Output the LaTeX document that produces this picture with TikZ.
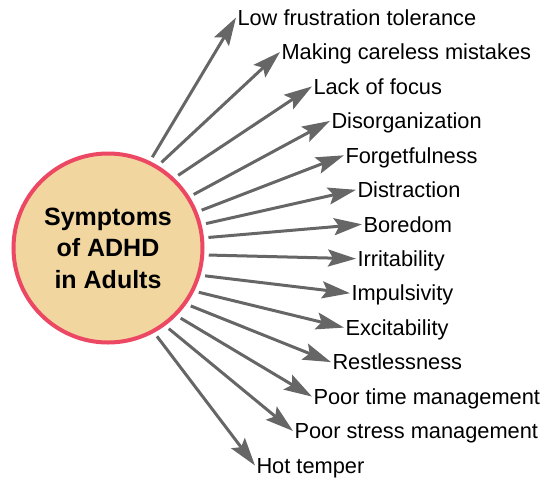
\documentclass[tikz,border=0pt]{standalone}
\usepackage{fontspec}
\setmainfont{Liberation Sans}
\usetikzlibrary{arrows.meta}
\definecolor{circfill}{RGB}{242,214,160}
\definecolor{circline}{RGB}{236,72,100}
\definecolor{arrgray}{RGB}{102,102,102}
\begin{document}
\begin{tikzpicture}[x=1pt,y=-1pt,
	symp/.style={anchor=west,inner xsep=1.5pt,inner ysep=0pt,outer sep=0pt,text height=15.5pt,text depth=0pt,font=\fontsize{21.8}{26}\selectfont},
	arr/.style={line width=3pt,color=arrgray,-{Stealth[length=28pt,width=17pt,inset=5pt]}}]
	\useasboundingbox (0,0) rectangle (559,477);
	%CENTRE
	\node[circle,draw=circline,line width=4pt,fill=circfill,minimum size=189pt,outer sep=6.5pt,align=center,font=\bfseries\fontsize{25}{31.5}\selectfont] (adhd) at (108,248) {Symptoms\\of ADHD\\in Adults};
	
	%SYMPTOMS
	\node[symp] (lowfrust) at (236,17.5) {Low frustration tolerance};
	\node[symp] (careless) at (280,52) {Making careless mistakes};
	\node[symp] (focus) at (312,86.4) {Lack of focus};
	\node[symp] (disorg) at (330,120.9) {Disorganization};
	\node[symp] (forget) at (344,155.3) {Forgetfulness};
	\node[symp] (distract) at (356,189.8) {Distraction};
	\node[symp] (bored) at (362,224.3) {Boredom};
	\node[symp] (irrit) at (356,258.7) {Irritability};
	\node[symp] (impuls) at (350,293.2) {Impulsivity};
	\node[symp] (excit) at (344,327.6) {Excitability};
	\node[symp] (restless) at (331,362.1) {Restlessness};
	\node[symp] (timemgmt) at (312,396.6) {Poor time management};
	\node[symp] (stressmgmt) at (293,431) {Poor stress management};
	\node[symp] (temper) at (255,465.5) {Hot temper};
	
	%ARROWS
	\draw[arr] (adhd.64) -- (lowfrust.west);
	\draw[arr] (adhd.58) -- (careless.west);
	\draw[arr] (adhd.46) -- (focus.west);
	\draw[arr] (adhd.32) -- (disorg.west);
	\draw[arr] (adhd.22) -- (forget.west);
	\draw[arr] (adhd.14) -- (distract.west);
	\draw[arr] (adhd.6) -- (bored.west);
	\draw[arr] (adhd.-4) -- (irrit.west);
	\draw[arr] (adhd.-16) -- (impuls.west);
	\draw[arr] (adhd.-26) -- (excit.west);
	\draw[arr] (adhd.-35) -- (restless.west);
	\draw[arr] (adhd.-44) -- (timemgmt.west);
	\draw[arr] (adhd.-53) -- (stressmgmt.west);
	\draw[arr] (adhd.-61) -- (temper.west);
\end{tikzpicture}
\end{document}
